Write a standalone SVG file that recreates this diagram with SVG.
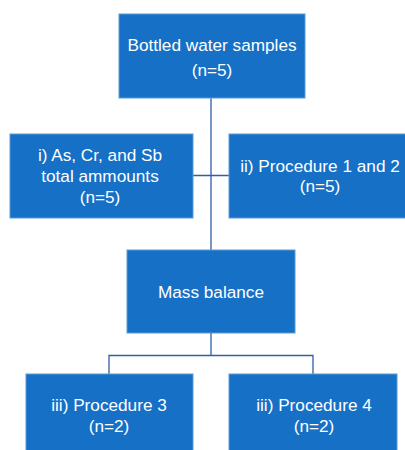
<svg xmlns="http://www.w3.org/2000/svg" width="405" height="450" viewBox="0 0 405 450">
<style>
.box{fill:#1570c6;stroke:#5b9bd5;stroke-width:1}
.t{font-family:"Liberation Sans",Arial,sans-serif;font-size:17.2px;fill:#ffffff;text-anchor:middle}
.c{fill:none;stroke:#2f5fa8;stroke-width:1.3}
</style>
<rect width="405" height="450" fill="#ffffff"/>
<g id="connectors">
<path class="c" d="M211 98 V250"/>
<path class="c" d="M193 175.5 H229"/>
<path class="c" d="M211 333 V355.5 M109 374 V355.5 H313 V374"/>
</g>
<g id="n1">
<rect class="box" x="119" y="14" width="186" height="84"/>
<text class="t" x="212" y="51">Bottled water samples</text>
<text class="t" x="212" y="76">(n=5)</text>
</g>
<g id="n2">
<rect class="box" x="10" y="134" width="183" height="84"/>
<text class="t" x="100" y="161">i) As, Cr, and Sb</text>
<text class="t" x="100" y="182">total ammounts</text>
<text class="t" x="100" y="203">(n=5)</text>
</g>
<g id="n3">
<rect class="box" x="229" y="134" width="182" height="84"/>
<text class="t" x="320" y="172">ii) Procedure 1 and 2</text>
<text class="t" x="320" y="192">(n=5)</text>
</g>
<g id="n4">
<rect class="box" x="127" y="250" width="168" height="83"/>
<text class="t" x="211" y="298">Mass balance</text>
</g>
<g id="n5">
<rect class="box" x="26" y="374" width="167" height="84"/>
<text class="t" x="109" y="411">iii) Procedure 3</text>
<text class="t" x="109" y="432">(n=2)</text>
</g>
<g id="n6">
<rect class="box" x="229" y="374" width="168" height="84"/>
<text class="t" x="314" y="411">iii) Procedure 4</text>
<text class="t" x="314" y="432">(n=2)</text>
</g>
</svg>
